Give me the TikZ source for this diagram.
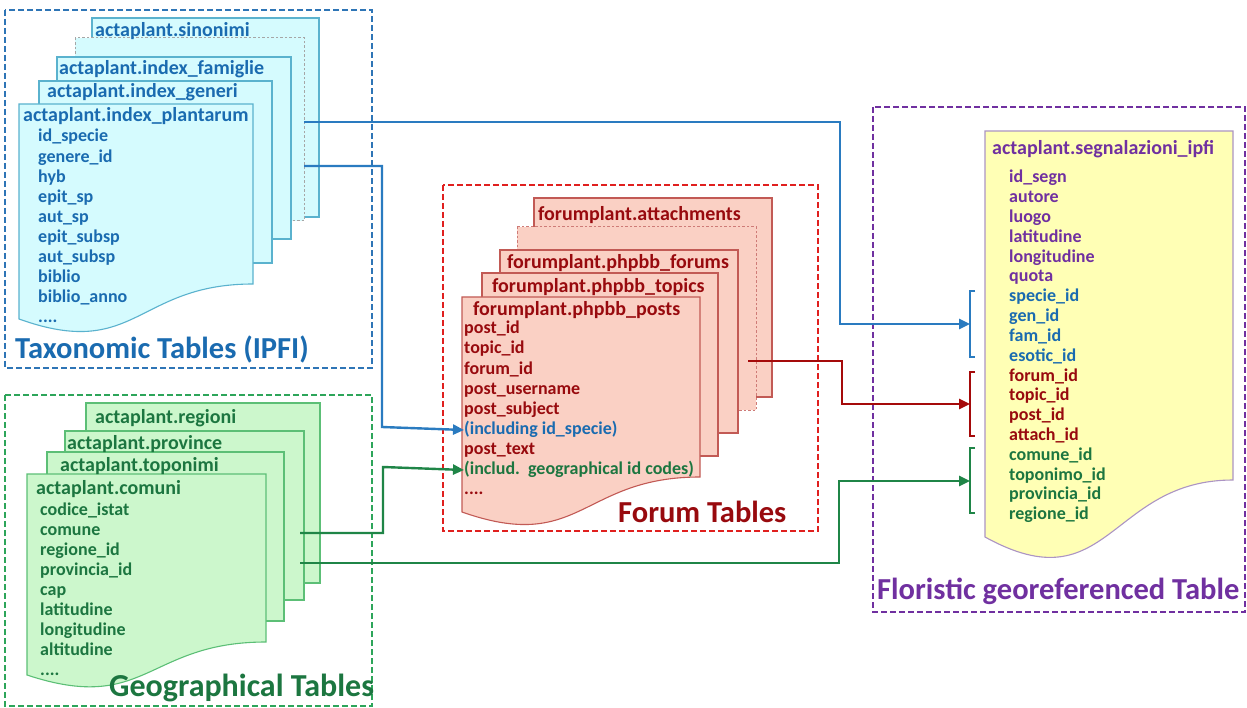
\documentclass[tikz,border=0pt]{standalone}
\usepackage{fontspec}
\setmainfont{Carlito}
\usetikzlibrary{arrows.meta}
\definecolor{txblue}{HTML}{1A6BB0}
\definecolor{fillcyan}{HTML}{D5FBFE}
\definecolor{linecyan}{HTML}{5AB2CE}
\definecolor{grpblue}{HTML}{2E75B6}
\definecolor{txgreen}{HTML}{1C7640}
\definecolor{fillgreen}{HTML}{CCF7CC}
\definecolor{linegreen}{HTML}{5CBF76}
\definecolor{grpgreen}{HTML}{2DA55A}
\definecolor{txred}{HTML}{980A0E}
\definecolor{fillred}{HTML}{FAD0C4}
\definecolor{linered}{HTML}{C25A55}
\definecolor{grpred}{HTML}{E0201F}
\definecolor{txpurple}{HTML}{7030A0}
\definecolor{fillyellow}{HTML}{FFFFB5}
\definecolor{lineyellow}{HTML}{AC94C4}
\definecolor{cblue}{HTML}{2A7BC0}
\definecolor{cred}{HTML}{A50A0A}
\definecolor{cgreen}{HTML}{1F8547}
\newcommand{\fdots}{....}
\newcommand{\docsheet}[6]{%
  \filldraw[#1] (#2,#3) -- (#4,#3) -- (#4,#5) .. controls ({(#2+#4)/2},#5) and ({(#2+#4)/2},{#5+2.2*(#6-#5)}) .. (#2,#6) -- cycle;}
\tikzset{
  grp/.style={line width=1.8pt, dash pattern=on 6pt off 3pt},
  sheet/.style={line width=1.1pt},
  dsheet/.style={line width=1pt, dash pattern=on 2.5pt off 2pt},
  fld/.style={anchor=west, inner sep=0pt, yshift=-3pt, font=\bfseries\fontsize{18}{18}\selectfont, text height=12pt, text depth=4pt},
  hdr/.style={anchor=west, inner sep=0pt, yshift=-3pt, font=\bfseries\fontsize{20}{20}\selectfont, text height=13pt, text depth=4pt},
  ttl/.style={anchor=west, inner sep=0pt, yshift=-2pt, font=\bfseries\fontsize{30.5}{30.5}\selectfont, text height=21pt, text depth=7pt},
  conn/.style={line width=2.4pt, -{Triangle[length=11pt,width=10pt]}},
  brk/.style={line width=2pt},
}
\begin{document}
\begin{tikzpicture}[x=1pt,y=-1pt]
\useasboundingbox (0,0) rectangle (1247,708);
\fill[white] (0,0) rectangle (1247,708);
% group frames
\draw[grp, draw=grpblue] (5,10) rectangle (372,368);
\draw[grp, draw=grpgreen] (5,395) rectangle (372,706);
\draw[grp, draw=grpred] (443,185) rectangle (818,531);
\draw[grp, draw=txpurple] (873,107) rectangle (1245,612);
% taxonomic sheets
\filldraw[sheet, fill=fillcyan, draw=linecyan] (92,18) rectangle (319,217);
\filldraw[dsheet, fill=fillcyan, draw=gray!70] (75,38) rectangle (304,221);
\filldraw[sheet, fill=fillcyan, draw=linecyan] (57,57) rectangle (291,239);
\filldraw[sheet, fill=fillcyan, draw=linecyan] (39,81) rectangle (272,263);
\docsheet{sheet, fill=fillcyan, draw=linecyan}{19}{104}{253}{284}{319}
\node[hdr, text=txblue] (tsin) at (95,29) {actaplant.sinonimi};
\node[hdr, text=txblue] (tfam) at (59,67) {actaplant.index\_famiglie};
\node[hdr, text=txblue] (tgen) at (47,90) {actaplant.index\_generi};
\node[hdr, text=txblue] (tpla) at (23,114) {actaplant.index\_plantarum};
\foreach \t [count=\i] in {id\_specie, genere\_id, hyb, epit\_sp, aut\_sp, epit\_subsp, aut\_subsp, biblio, biblio\_anno, \fdots}
  \node[fld, text=txblue] (tf\i) at (38,{135+20.1*(\i-1)}) {\t};
\node[ttl, text=txblue] (ttax) at (15,350) {Taxonomic Tables (IPFI)};
% geographical sheets
\filldraw[sheet, fill=fillgreen, draw=linegreen] (86,403) rectangle (320,583);
\filldraw[sheet, fill=fillgreen, draw=linegreen] (65,431) rectangle (304,600);
\filldraw[sheet, fill=fillgreen, draw=linegreen] (47,452) rectangle (284,621);
\docsheet{sheet, fill=fillgreen, draw=linegreen}{27}{474}{266}{642}{675}
\node[hdr, text=txgreen] (greg) at (95,416) {actaplant.regioni};
\node[hdr, text=txgreen] (gpro) at (67,442) {actaplant.province};
\node[hdr, text=txgreen] (gtop) at (60,464) {actaplant.toponimi};
\node[hdr, text=txgreen] (gcom) at (36,487) {actaplant.comuni};
\foreach \t [count=\i] in {codice\_istat, comune, regione\_id, provincia\_id, cap, latitudine, longitudine, altitudine, \fdots}
  \node[fld, text=txgreen] (gf\i) at (40,{508+20*(\i-1)}) {\t};
\node[ttl, text=txgreen, font=\bfseries\fontsize{32}{32}\selectfont] (tgeo) at (109,687) {Geographical Tables};
% forum sheets
\filldraw[sheet, fill=fillred, draw=linered] (534,198) rectangle (772,397);
\filldraw[dsheet, fill=fillred, draw=linered!80] (517,227) rectangle (756,410);
\filldraw[sheet, fill=fillred, draw=linered] (500,250) rectangle (738,433);
\filldraw[sheet, fill=fillred, draw=linered] (482,273) rectangle (718,456);
\docsheet{sheet, fill=fillred, draw=linered}{462}{297}{700}{477}{512}
\node[hdr, text=txred] (fatt) at (538,213) {forumplant.attachments};
\node[hdr, text=txred] (ffor) at (507,261) {forumplant.phpbb\_forums};
\node[hdr, text=txred] (ftop) at (492,285) {forumplant.phpbb\_topics};
\node[hdr, text=txred] (fpos) at (473,308) {forumplant.phpbb\_posts};
\foreach \t/\c [count=\i] in {post\_id/txred, topic\_id/txred, forum\_id/txred, post\_username/txred, post\_subject/txred, (including id\_specie)/txblue, post\_text/txred, (includ.\hspace{0.45em}geographical id codes)/txgreen, \fdots/txred}
  \node[fld, text=\c] (ff\i) at (464,{327+20*(\i-1)}) {\t};
\node[ttl, text=txred] (tfor) at (618,513) {Forum Tables};
% floristic sheet
\docsheet{sheet, fill=fillyellow, draw=lineyellow}{985}{131}{1233}{480}{537}
\node[hdr, text=txpurple] (yhdr) at (992,147) {actaplant.segnalazioni\_ipfi};
\foreach \t/\c [count=\i] in {id\_segn/txpurple, autore/txpurple, luogo/txpurple, latitudine/txpurple, longitudine/txpurple, quota/txpurple, specie\_id/txblue, gen\_id/txblue, fam\_id/txblue, esotic\_id/txblue, forum\_id/txred, topic\_id/txred, post\_id/txred, attach\_id/txred, comune\_id/txgreen, toponimo\_id/txgreen, provincia\_id/txgreen, regione\_id/txgreen}
  \node[fld, text=\c] (yf\i) at (1009,{176+19.8*(\i-1)}) {\t};
\node[ttl, text=txpurple] (tflo) at (877,590) {Floristic georeferenced Table};
% brackets
\coordinate (bkb) at (970,324);
\coordinate (bkr) at (970,404);
\coordinate (bkg) at (970,481);
\draw[brk, cblue] ([shift={(5,-33)}]bkb) -- ([shift={(0,-33)}]bkb) -- ([shift={(0,33)}]bkb) -- ([shift={(5,33)}]bkb);
\draw[brk, cred] ([shift={(5,-32)}]bkr) -- ([shift={(0,-32)}]bkr) -- ([shift={(0,32)}]bkr) -- ([shift={(5,32)}]bkr);
\draw[brk, cgreen] ([shift={(5,-33)}]bkg) -- ([shift={(0,-33)}]bkg) -- ([shift={(0,32)}]bkg) -- ([shift={(5,32)}]bkg);
% connectors
\coordinate (b1s) at (304,122); \coordinate (b1k) at (840,324);
\coordinate (b2s) at (304,166); \coordinate (b2k) at (382,427);
\coordinate (g1s) at (300,533); \coordinate (g1k) at (383,467);
\coordinate (g2s) at (300,563); \coordinate (g2k) at (839,481);
\coordinate (r1s) at (748,361); \coordinate (r1k) at (842,404);
\draw[conn, cblue] (b1s) -| (b1k) -- (bkb);
\draw[conn, cblue] (b2s) -| (b2k) -- (ff6.west);
\draw[conn, cgreen] (g1s) -| (g1k) -- (ff8.west);
\draw[conn, cgreen] (g2s) -| (g2k) -- (bkg);
\draw[conn, cred] (r1s) -| (r1k) -- (bkr);
\end{tikzpicture}
\end{document}
